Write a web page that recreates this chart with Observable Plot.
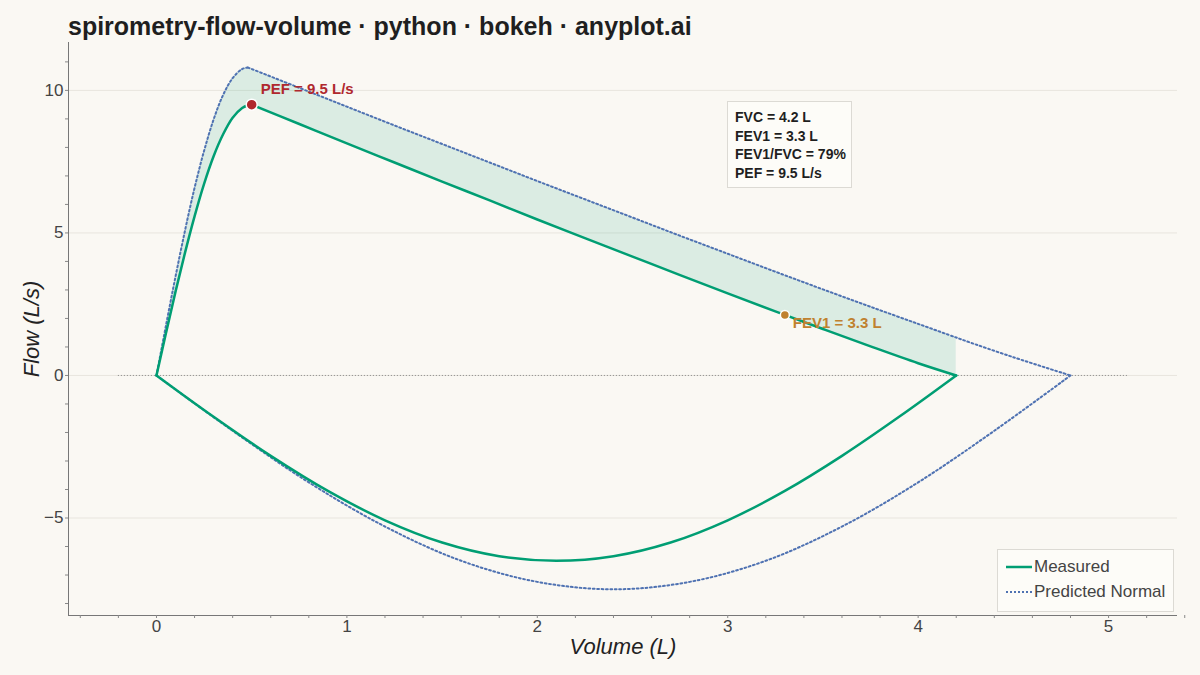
<!DOCTYPE html>
<html>
<head>
<meta charset="utf-8">
<script src="https://cdn.jsdelivr.net/npm/d3@7"></script>
<script src="https://cdn.jsdelivr.net/npm/@observablehq/plot@0.6"></script>
<style>
  html, body { margin: 0; padding: 0; background: #faf8f3; }
  body { width: 1200px; height: 675px; position: relative; overflow: hidden; font-family: "Liberation Sans", Arial, sans-serif; }
  #title { position: absolute; left: 68px; top: 12px; font-size: 25px; font-weight: bold; color: #1f1f1f; white-space: nowrap; }
  #chart { position: absolute; left: 0; top: 40px; }
  .box { position: absolute; background: #fdfcf8; border: 1px solid #dcdad4; box-sizing: border-box; }
  #stats { left: 727px; top: 101px; width: 125px; height: 87px; padding: 6px 0 0 7px; font-size: 14px; font-weight: bold; color: #1f1f1f; line-height: 18.7px; }
  #legend { left: 997px; top: 549px; width: 177px; height: 63px; font-size: 17px; color: #444; }
  .li { position: absolute; left: 0; height: 22px; }
  .li svg { position: absolute; left: 8px; top: 0; }
  .li span { position: absolute; left: 36px; top: 1px; white-space: nowrap; }
</style>
</head>
<body>
<div id="title">spirometry-flow-volume · python · bokeh · anyplot.ai</div>
<div id="chart"></div>
<div id="stats" class="box"></div>
<div id="legend" class="box">
  <div class="li" style="top:6px"><svg width="26" height="22"><line x1="0" x2="26" y1="11" y2="11" stroke="#009e73" stroke-width="2.5"/></svg><span>Measured</span></div>
  <div class="li" style="top:31px"><svg width="26" height="22"><line x1="0" x2="26" y1="11" y2="11" stroke="#4f72b2" stroke-width="2" stroke-dasharray="2,2"/></svg><span>Predicted Normal</span></div>
</div>
<script>
// ---- data ----
// shared expiratory volume grid (L)
const expVolume   = [0, 0.05, 0.1, 0.15, 0.2, 0.25, 0.3, 0.35, 0.4, 0.45, 0.48, 0.5, 0.75, 1.0, 1.25, 1.5, 1.75, 2.0, 2.25, 2.5, 2.75, 3.0, 3.25, 3.5, 3.75, 4.0, 4.2];
const expMeasured = [0, 1.49, 2.94, 4.31, 5.58, 6.72, 7.69, 8.46, 9.04, 9.38, 9.48, 9.5, 8.82, 8.14, 7.47, 6.80, 6.14, 5.47, 4.82, 4.17, 3.52, 2.88, 2.25, 1.63, 1.02, 0.43, 0];
const expPredicted = [0, 1.76, 3.47, 5.09, 6.58, 7.88, 8.98, 9.84, 10.43, 10.75, 10.8, 10.75, 10.09, 9.43, 8.77, 8.12, 7.47, 6.82, 6.18, 5.54, 4.90, 4.27, 3.64, 3.02, 2.41, 1.81, 1.33];
// predicted expiratory tail beyond measured FVC
const predTailVolume = [4.25, 4.5, 4.8];
const predTailFlow   = [1.21, 0.64, 0];
// inspiratory limbs (flow negative)
const inspMeasVolume = [4.2, 3.9, 3.6, 3.3, 3.0, 2.7, 2.4, 2.1, 1.8, 1.5, 1.2, 0.9, 0.6, 0.3, 0];
const inspMeasFlow   = [0, -1.45, -2.82, -4.05, -5.08, -5.86, -6.34, -6.5, -6.34, -5.86, -5.08, -4.05, -2.82, -1.45, 0];
const inspPredVolume = [4.8, 4.4, 4.0, 3.6, 3.2, 2.8, 2.4, 2.0, 1.6, 1.2, 0.8, 0.4, 0];
const inspPredFlow   = [0, -1.94, -3.75, -5.30, -6.50, -7.24, -7.5, -7.24, -6.50, -5.30, -3.75, -1.94, 0];
// key points
const pef  = {volume: 0.5, flow: 9.5, label: "PEF = 9.5 L/s"};
const fev1 = {volume: 3.3, flow: 2.12, label: "FEV1 = 3.3 L"};
const statsLines = ["FVC = 4.2 L", "FEV1 = 3.3 L", "FEV1/FVC = 79%", "PEF = 9.5 L/s"];
const xTicks = [0, 1, 2, 3, 4, 5];
const yTicks = [-5, 0, 5, 10];
const xDomain = [-0.462, 5.362];
const yDomain = [-8.42, 11.68];

// ---- build tables ----
const expTable = expVolume.map((v, i) => ({v, m: expMeasured[i], p: expPredicted[i]}));
const measRise = expVolume.slice(0, 12).map((v, i) => ({v, f: expMeasured[i]}));
const measFall = expVolume.slice(11).map((v, i) => ({v, f: expMeasured[i + 11]}));
const measInsp = inspMeasVolume.map((v, i) => ({v, f: inspMeasFlow[i]}));
const predRise = expVolume.slice(0, 11).map((v, i) => ({v, f: expPredicted[i]}));
const predFall = expVolume.slice(10).map((v, i) => ({v, f: expPredicted[i + 10]}))
  .concat(predTailVolume.map((v, i) => ({v, f: predTailFlow[i]})));
const predInsp = inspPredVolume.map((v, i) => ({v, f: inspPredFlow[i]}));
const minorX = d3.range(-0.4, 5.4, 0.2).map(d => +d.toFixed(2));
const minorY = d3.range(-8, 12, 1);

const green = "#009e73", blue = "#4f72b2", red = "#b0282e", amber = "#c0812f";
const predStyle = {x: "v", y: "f", stroke: blue, strokeWidth: 2, strokeDasharray: "1.8,2.6", curve: "catmull-rom"};
const measStyle = {x: "v", y: "f", stroke: green, strokeWidth: 2.5, curve: "catmull-rom"};

const chart = Plot.plot({
  width: 1200,
  height: 635,
  marginLeft: 68,
  marginRight: 23,
  marginTop: 2,
  marginBottom: 60,
  style: {background: "transparent", fontFamily: "Liberation Sans, Arial, sans-serif"},
  x: {domain: xDomain},
  y: {domain: yDomain},
  marks: [
    Plot.ruleY(yTicks, {stroke: "#e8e5de", strokeWidth: 1}),
    Plot.ruleY([0], {x1: -0.2, x2: 5.1, stroke: "#8a8a8a", strokeWidth: 1, strokeDasharray: "1,2"}),
    Plot.areaY(expTable, {x: "v", y1: "m", y2: "p", fill: green, fillOpacity: 0.12, curve: "catmull-rom"}),
    Plot.line(predRise, predStyle),
    Plot.line(predFall, predStyle),
    Plot.line(predInsp, predStyle),
    Plot.line(measRise, measStyle),
    Plot.line(measFall, measStyle),
    Plot.line(measInsp, measStyle),
    // axes lines
    Plot.ruleX([xDomain[0]], {stroke: "#777", strokeWidth: 1}),
    Plot.ruleY([yDomain[0]], {stroke: "#777", strokeWidth: 1}),
    // minor ticks
    Plot.axisX(minorX, {tickSize: 3, tickFormat: () => "", stroke: "#888"}),
    Plot.axisY(minorY, {tickSize: 3, tickFormat: () => "", stroke: "#888"}),
    // labels
    Plot.axisX(xTicks, {tickSize: 0, tickPadding: 4, fontSize: 17, fill: "#444", tickFormat: d => String(d), label: null}),
    Plot.axisY(yTicks, {tickSize: 0, tickPadding: 5, fontSize: 17, fill: "#444", tickFormat: d => (d < 0 ? "\u2212" + Math.abs(d) : String(d)), label: null}),
    Plot.text(["Volume (L)"], {x: () => (xDomain[0] + xDomain[1]) / 2, y: () => yDomain[0], dy: 31, fontSize: 22, fontStyle: "italic", fill: "#222"}),
    Plot.text(["Flow (L/s)"], {x: () => xDomain[0], y: () => (yDomain[0] + yDomain[1]) / 2, dx: -37, rotate: -90, fontSize: 22, fontStyle: "italic", fill: "#222"}),
    // key points
    Plot.dot([pef], {x: "volume", y: "flow", r: 5.5, fill: red, stroke: "white", strokeWidth: 1.5}),
    Plot.text([pef], {x: "volume", y: "flow", text: "label", dx: 9, dy: -15, textAnchor: "start", fontSize: 15, fontWeight: "bold", fill: red}),
    Plot.dot([fev1], {x: "volume", y: "flow", r: 4.5, fill: amber, stroke: "white", strokeWidth: 1.5}),
    Plot.text([fev1], {x: "volume", y: "flow", text: "label", dx: 8, dy: 8, textAnchor: "start", fontSize: 15, fontWeight: "bold", fill: amber})
  ]
});
document.getElementById("chart").appendChild(chart);
document.getElementById("stats").innerHTML = statsLines.map(s => `<div>${s}</div>`).join("");
</script>
</body>
</html>
